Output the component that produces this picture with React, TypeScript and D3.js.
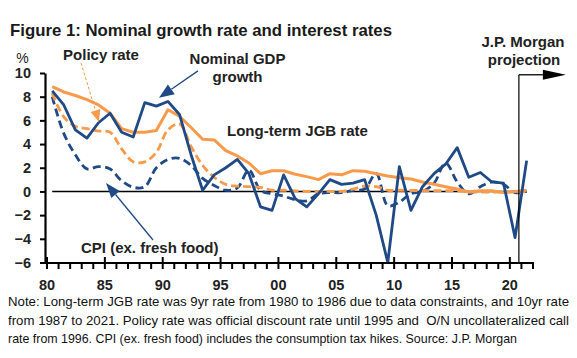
import * as d3 from 'd3';
import { useEffect, useRef } from 'react';

// annual data, 1980-2021 (%, y/y)
const years = [
  1980, 1981, 1982, 1983, 1984, 1985, 1986, 1987, 1988, 1989,
  1990, 1991, 1992, 1993, 1994, 1995, 1996, 1997, 1998, 1999,
  2000, 2001, 2002, 2003, 2004, 2005, 2006, 2007, 2008, 2009,
  2010, 2011, 2012, 2013, 2014, 2015, 2016, 2017, 2018, 2019,
  2020, 2021,
];
const nominalGdp = [
  8.5, 7.3, 5.2, 4.5, 5.8, 6.6, 5.0, 4.6, 7.5, 7.2,
  7.6, 6.5, 3.1, 0.1, 1.4, 2.0, 2.7, 1.5, -1.3, -1.6,
  1.4, -0.6, -1.3, -0.2, 1.0, 0.6, 0.7, 1.0, -2.0, -6.0,
  2.1, -1.6, 0.4, 1.5, 2.3, 3.7, 1.2, 1.6, 0.8, 0.7,
  -3.9, 2.6,
];
const jgbRate = [
  8.85, 8.4, 8.1, 7.75, 7.3, 6.6, 5.3, 5.0, 5.0, 5.15,
  6.9, 6.35, 5.4, 4.4, 4.35, 3.45, 3.0, 2.4, 1.5, 1.75,
  1.75, 1.45, 1.25, 1.0, 1.5, 1.4, 1.75, 1.7, 1.5, 1.3,
  1.15, 1.05, 0.8, 0.6, 0.4, 0.2, -0.05, 0.05, 0.05, -0.1,
  0.0, 0.1,
];
const policyRate = [
  8.3, 6.3, 5.5, 5.3, 5.1, 5.0, 3.6, 2.5, 2.5, 3.3,
  5.2, 5.7, 3.8, 2.2, 1.2, 0.6, 0.45, 0.4, 0.35, 0.1,
  0.1, 0.05, 0.0, 0.0, 0.0, 0.0, 0.2, 0.45, 0.4, 0.1,
  0.1, 0.08, 0.08, 0.07, 0.07, 0.07, -0.05, -0.05, -0.06, -0.05,
  -0.03, -0.02,
];
const cpiCore = [
  8.0, 4.9, 3.1, 1.9, 2.1, 1.9, 0.9, 0.35, 0.4, 2.0,
  2.7, 2.8, 2.2, 1.1, 0.5, 0.1, 0.3, 1.8, 0.1, -0.2,
  -0.4, -0.7, -0.8, -0.2, -0.1, -0.1, 0.1, 0.2, 1.5, -1.2,
  -0.9, -0.2, 0.0, 0.7, 2.4, 0.8, -0.2, 0.4, 0.8, 0.6,
  -0.1, 0.0,
];

const yTicks = [-6, -4, -2, 0, 2, 4, 6, 8, 10];
const xMajorYears = [1980, 1985, 1990, 1995, 2000, 2005, 2010, 2015, 2020];
const xTickLabels = ['80', '85', '90', '95', '00', '05', '10', '15', '20'];

const noteLines = [
  'Note: Long-term JGB rate was 9yr rate from 1980 to 1986 due to data constraints, and 10yr rate',
  'from 1987 to 2021. Policy rate was official discount rate until 1995 and  O/N uncollateralized call',
  'rate from 1996. CPI (ex. fresh food) includes the consumption tax hikes. Source: J.P. Morgan',
];
const noteWidths = [561, 561, 509];

const FONT = '"Liberation Sans", Arial, Helvetica, sans-serif';
const BLUE = '#1f4a86';
const ORANGE = '#f79a4b';

function arrow(g, x1, y1, x2, y2, color, len, wid, dash) {
  const ang = Math.atan2(y2 - y1, x2 - x1);
  const bx = x2 - len * Math.cos(ang);
  const by = y2 - len * Math.sin(ang);
  const px = (-Math.sin(ang) * wid) / 2;
  const py = (Math.cos(ang) * wid) / 2;
  g.append('line')
    .attr('x1', x1).attr('y1', y1)
    .attr('x2', bx).attr('y2', by)
    .attr('stroke', color)
    .attr('stroke-width', dash ? 1 : 1.3)
    .attr('stroke-dasharray', dash || null);
  g.append('polygon')
    .attr('points', `${x2},${y2} ${bx + px},${by + py} ${bx - px},${by - py}`)
    .attr('fill', color);
}

export default function App() {
  const svgRef = useRef(null);

  useEffect(() => {
    const svg = d3.select(svgRef.current);
    svg.selectAll('*').remove();

    const x = d3.scaleLinear().domain([1980, 2022]).range([47, 533]);
    const y = d3.scaleLinear().domain([-6, 10]).range([262.5, 73]);
    // observations sit a bit inside each year
    const px = (i) => x(years[i] + 0.45);

    svg.append('text')
      .attr('x', 10).attr('y', 36)
      .attr('font-size', 16.2).attr('font-weight', 'bold')
      .attr('fill', '#1a1a1a')
      .attr('textLength', 382).attr('lengthAdjust', 'spacingAndGlyphs')
      .text('Figure 1: Nominal growth rate and interest rates');

    // zero line
    svg.append('line')
      .attr('x1', px(0)).attr('x2', px(years.length - 1))
      .attr('y1', y(0)).attr('y2', y(0))
      .attr('stroke', '#000').attr('stroke-width', 1.5);

    const straight = d3.line().x((d, i) => px(i)).y(d => y(d));
    const smooth = d3.line().x((d, i) => px(i)).y(d => y(d)).curve(d3.curveCatmullRom.alpha(0.5));

    svg.append('path').datum(cpiCore)
      .attr('d', smooth).attr('fill', 'none')
      .attr('stroke', BLUE).attr('stroke-width', 2.8)
      .attr('stroke-dasharray', '8,4.5');

    svg.append('path').datum(policyRate)
      .attr('d', smooth).attr('fill', 'none')
      .attr('stroke', ORANGE).attr('stroke-width', 2.8)
      .attr('stroke-dasharray', '8,4');

    svg.append('path').datum(jgbRate)
      .attr('d', straight).attr('fill', 'none')
      .attr('stroke', ORANGE).attr('stroke-width', 3)
      .attr('stroke-linejoin', 'round');

    svg.append('path').datum(nominalGdp)
      .attr('d', straight).attr('fill', 'none')
      .attr('stroke', BLUE).attr('stroke-width', 2.8)
      .attr('stroke-linejoin', 'round');

    // y axis
    const yAxis = d3.axisLeft(y).tickValues(yTicks).tickSize(5).tickSizeOuter(0).tickPadding(9);
    const yg = svg.append('g').attr('transform', 'translate(45,0)').call(yAxis);
    yg.select('.domain').attr('stroke-width', 2.2);
    yg.selectAll('.tick line').attr('stroke-width', 2);
    yg.selectAll('.tick text')
      .attr('font-family', FONT).attr('font-size', 14.5).attr('font-weight', 'bold')
      .attr('fill', '#222');

    // x axis
    const axisY = y(-6) + 0.5;
    svg.append('line')
      .attr('x1', 44).attr('x2', x(2022) + 1)
      .attr('y1', axisY).attr('y2', axisY)
      .attr('stroke', '#000').attr('stroke-width', 2.2);
    const allYears = years.concat([2022]);
    svg.append('g').selectAll('line').data(allYears).join('line')
      .attr('x1', d => x(d)).attr('x2', d => x(d))
      .attr('y1', d => (xMajorYears.includes(d) ? axisY - 6 : axisY))
      .attr('y2', axisY + 6)
      .attr('stroke', '#000').attr('stroke-width', 2);
    svg.append('g').selectAll('text').data(xMajorYears).join('text')
      .attr('x', d => x(d)).attr('y', 290)
      .attr('text-anchor', 'middle')
      .attr('font-size', 14.5).attr('font-weight', 'bold').attr('fill', '#222')
      .text((d, i) => xTickLabels[i]);

    svg.append('text')
      .attr('x', 22.5).attr('y', 63).attr('text-anchor', 'middle')
      .attr('font-size', 14).attr('fill', '#222').text('%');

    // annotations
    const ann = svg.append('g');
    const lbl = (t, xx, yy, anchor) =>
      ann.append('text').attr('x', xx).attr('y', yy)
        .attr('text-anchor', anchor).attr('font-size', 15).attr('font-weight', 'bold')
        .attr('fill', '#222').text(t);

    lbl('Policy rate', 101, 60, 'middle');
    lbl('Nominal GDP', 237.5, 64, 'middle');
    lbl('growth', 237.5, 81.5, 'middle');
    lbl('Long-term JGB rate', 227, 136, 'start');
    lbl('CPI (ex. fresh food)', 81, 253, 'start');
    lbl('J.P. Morgan', 523, 47, 'middle');
    lbl('projection', 524, 65, 'middle');

    arrow(ann, x(1982.94), y(10.85), x(1984.49), y(5.87), ORANGE, 12, 10, '3,2');
    arrow(ann, x(1993.05), y(10.18), x(1989.68), y(7.9), BLUE, 15, 12);
    arrow(ann, x(1989.16), y(-4.1), x(1985.1), y(0.72), BLUE, 15, 11);

    // projection marker
    const projX = x(2020.78);
    ann.append('line')
      .attr('x1', projX).attr('x2', projX)
      .attr('y1', y(9.85)).attr('y2', axisY)
      .attr('stroke', '#000').attr('stroke-width', 1.2);
    arrow(ann, projX, y(9.85), x(2024.84), y(9.85), '#000', 23, 10);

    // note
    svg.append('g').selectAll('text').data(noteLines).join('text')
      .attr('x', 8).attr('y', (d, i) => 306 + i * 18.7)
      .attr('font-size', 13).attr('fill', '#111')
      .attr('textLength', (d, i) => noteWidths[i]).attr('lengthAdjust', 'spacingAndGlyphs')
      .style('white-space', 'pre')
      .text(d => d);
  }, []);

  return (
    <svg
      ref={svgRef}
      width={577}
      height={358}
      style={{ position: 'absolute', left: 0, top: 0, background: '#fff', fontFamily: FONT }}
    />
  );
}
